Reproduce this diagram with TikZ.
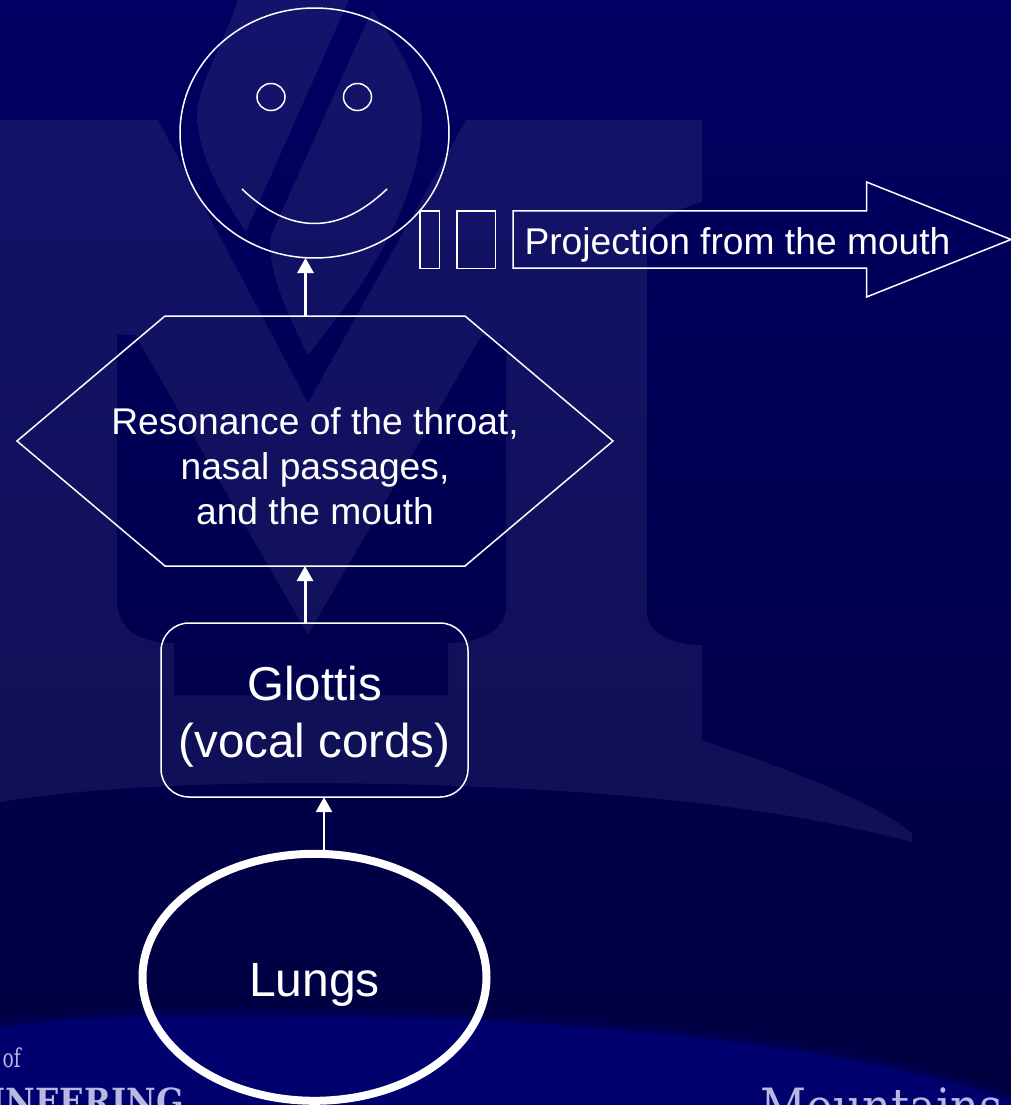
\documentclass[tikz,border=0pt]{standalone}
\usepackage{fontspec}
\setmainfont{Liberation Sans}
\newfontfamily\slabfont{DejaVu Serif Condensed}
\usetikzlibrary{shapes.geometric,arrows.meta}
\definecolor{basetop}{RGB}{0,0,98}
\definecolor{basebot}{RGB}{0,0,64}
\definecolor{marktop}{RGB}{19,19,108}
\definecolor{markbot}{RGB}{15,15,78}
\definecolor{glowout}{RGB}{0,0,80}
\definecolor{glowin}{RGB}{0,0,110}
\definecolor{logotext}{RGB}{184,184,226}
\newcommand{\basepatch}[1]{\begin{scope}\clip #1; \shade[top color=basetop,bottom color=basebot] (0,0) rectangle (1011,1105);\end{scope}}
\newcommand{\markpatch}[1]{\begin{scope}\clip #1; \shade[top color=marktop,bottom color=markbot] (0,0) rectangle (1011,1105);\end{scope}}
\tikzset{
  outline/.style={draw=white,line width=1.5pt,inner sep=0pt,outer sep=0pt},
  frame/.style={inner sep=0pt,outer sep=0pt},
  label/.style={text=white,align=center,inner sep=0pt},
  flow/.style={draw=white,line width=3pt,-{Triangle[width=16pt,length=15pt]},color=white},
  thinflow/.style={draw=white,line width=2pt,-{Triangle[width=16pt,length=15pt]},color=white},
  logo/.style={text=logotext,inner sep=0pt,font=\slabfont}
}
\begin{document}
\begin{tikzpicture}[x=1pt,y=-1pt]
\useasboundingbox (0,0) rectangle (1011,1105);
\begin{scope}
\clip (0,0) rectangle (1011,1105);
% background
\shade[top color=basetop,bottom color=basebot] (0,0) rectangle (1011,1105);
% watermark
\markpatch{(0,120) -- (158,120) -- (308,403) -- (466,120) -- (702,120) -- (702,202) .. controls (680,208) and (652,222) .. (647,240) -- (647,615) .. controls (650,635) and (675,645) .. (702,645) -- (702,740) .. controls (790,770) and (870,800) .. (912,833) -- (912,842) .. controls (790,810) and (620,785) .. (310,783) .. controls (180,783) and (70,790) .. (0,802) -- cycle}
\markpatch{(238,0) .. controls (225,40) and (200,80) .. (197,113) .. controls (198,160) and (225,200) .. (246,232) -- (271,235) .. controls (268,260) and (275,290) .. (308,355) -- (335,320) .. controls (375,270) and (422,190) .. (422,117) .. controls (420,80) and (395,40) .. (372,10) -- (349,0) -- cycle}
\basepatch{(349,0) -- (372,10) -- (271,235) -- (246,232) -- cycle}
\basepatch{(117,335) -- (135,335) -- (308,635) -- (482,335) -- (506,345) -- (506,610) .. controls (503,630) and (480,643) .. (448,643) -- (448,695) -- (174,695) -- (174,643) .. controls (140,643) and (118,630) .. (117,600) -- cycle}
% lower glow
\fill[glowout] (0,1020) .. controls (70,1010) and (160,1008) .. (240,1008) .. controls (450,1008) and (800,1020) .. (1011,1094) -- (1011,1105) -- (0,1105) -- cycle;
\fill[glowin] (0,1027) .. controls (70,1017) and (160,1015) .. (240,1015) .. controls (450,1015) and (800,1027) .. (1011,1101) -- (1011,1105) -- (0,1105) -- cycle;
% partial logo text
\node[logo,anchor=base east,xscale=0.8,font=\slabfont\fontsize{26}{26}\selectfont] (logoof) at (21,1067) {of};
\node[logo,anchor=base east,font=\slabfont\bfseries\fontsize{36}{36}\selectfont] (logoeng) at (184,1114) {INEERING};
\node[logo,anchor=base west,font=\slabfont\fontsize{50}{50}\selectfont] (logomtn) at (760,1124) {Mountains};
\end{scope}
% face
\node[outline,ellipse,minimum width=269pt,minimum height=250pt] (face) at (314.5,133) {};
\node[outline,ellipse,minimum width=28pt,minimum height=27pt] (eyeL) at (271,97) {};
\node[outline,ellipse,minimum width=28pt,minimum height=27pt] (eyeR) at (357.5,97) {};
\coordinate (smileL) at (242,189);
\coordinate (smileR) at (387,189);
\draw[white,line width=1.5pt] (smileL) .. controls (290,235) and (339,235) .. (smileR);
% projection blocks
\node[outline,rectangle,minimum width=19.5pt,minimum height=57.5pt] (gapA) at (429.7,239.7) {};
\node[outline,rectangle,minimum width=38.5pt,minimum height=57.5pt] (gapB) at (476.2,239.7) {};
\node[frame,rectangle,minimum width=498pt,minimum height=115pt] (proj) at (762,239.5) {};
\draw[white,line width=1.5pt,line join=miter]
  ([yshift=28.7pt]proj.west) -- ([xshift=353.5pt,yshift=28.7pt]proj.west) -- ([xshift=353.5pt]proj.north west) -- (proj.east)
  -- ([xshift=353.5pt]proj.south west) -- ([xshift=353.5pt,yshift=-28.7pt]proj.west) -- ([yshift=-28.7pt]proj.west) -- cycle;
\node[label,font=\fontsize{37.2}{37.2}\selectfont] (projtext) at (737.5,245) {Projection from the mouth};
% hexagon
\node[frame,rectangle,minimum width=596pt,minimum height=250pt] (hex) at (315,441) {};
\draw[white,line width=1.5pt] (hex.west) -- ([xshift=148pt]hex.north west) -- ([xshift=-148pt]hex.north east) -- (hex.east)
  -- ([xshift=-148pt]hex.south east) -- ([xshift=148pt]hex.south west) -- cycle;
\node[label,font=\fontsize{37.2}{45}\selectfont] (hextext) at (315,466) {Resonance of the throat,\\nasal passages,\\and the mouth};
% glottis
\node[outline,rectangle,rounded corners=28pt,minimum width=307pt,minimum height=174pt] (glottis) at (314.5,710) {};
\node[label,font=\fontsize{47.5}{57}\selectfont] (glottistext) at (314.5,716.5) {Glottis\\(vocal cords)};
% lungs
\node[draw=white,line width=8pt,ellipse,inner sep=0pt,outer sep=0pt,minimum width=344pt,minimum height=247pt] (lungs) at (314.5,977.3) {};
\node[label,font=\fontsize{48}{48}\selectfont] (lungstext) at (314.5,985) {Lungs};
% connectors
\draw[flow] ([xshift=-9.5pt]hex.north) -- ([xshift=-9.5pt]hex.north |- face.south);
\draw[flow] ([xshift=-9.5pt]glottis.north) -- ([xshift=-9.5pt]glottis.north |- hex.south);
\coordinate (lungsout) at (324,850);
\draw[thinflow] (lungsout) -- (lungsout |- glottis.south);
\end{tikzpicture}
\end{document}
